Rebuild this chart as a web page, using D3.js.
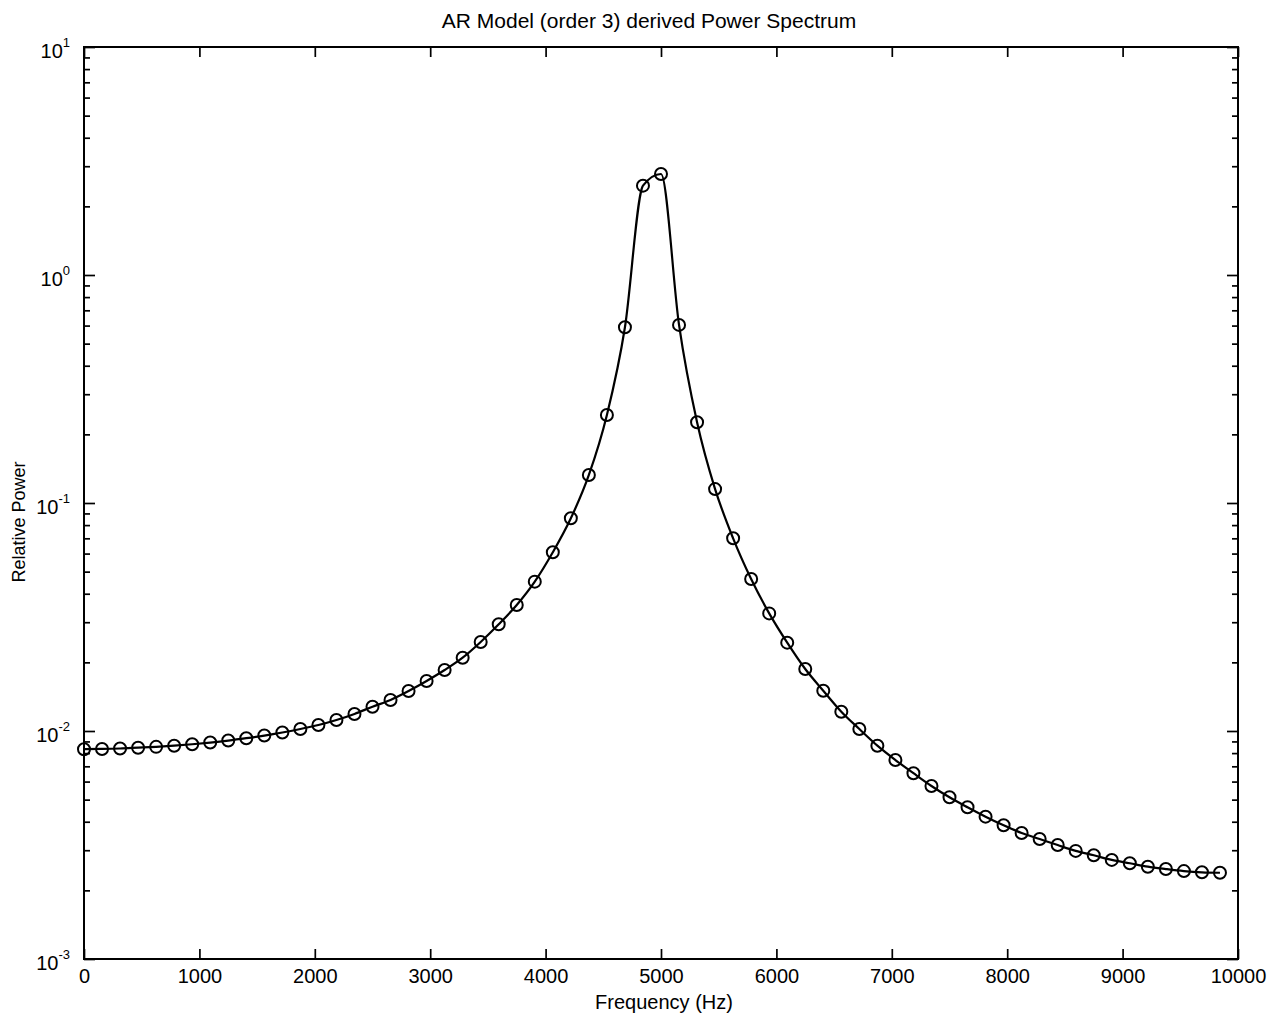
<!DOCTYPE html>
<html>
<head>
<meta charset="utf-8">
<script src="https://cdnjs.cloudflare.com/ajax/libs/d3/7.8.5/d3.min.js"></script>
<style>
  body { margin: 0; background: #fff; }
  text { font-family: "Liberation Sans", Arial, Helvetica, sans-serif; fill: #000; }
</style>
</head>
<body>
<div id="main"></div>
<script>
// frequency bins (Hz)
var freqs = [0, 156.25, 312.5, 468.75, 625, 781.25, 937.5, 1093.75,
    1250, 1406.25, 1562.5, 1718.75, 1875, 2031.25, 2187.5, 2343.75,
    2500, 2656.25, 2812.5, 2968.75, 3125, 3281.25, 3437.5, 3593.75,
    3750, 3906.25, 4062.5, 4218.75, 4375, 4531.25, 4687.5, 4843.75,
    5000, 5156.25, 5312.5, 5468.75, 5625, 5781.25, 5937.5, 6093.75,
    6250, 6406.25, 6562.5, 6718.75, 6875, 7031.25, 7187.5, 7343.75,
    7500, 7656.25, 7812.5, 7968.75, 8125, 8281.25, 8437.5, 8593.75,
    8750, 8906.25, 9062.5, 9218.75, 9375, 9531.25, 9687.5, 9843.75];

// relative power
var power = [0.00832, 0.00834, 0.00838, 0.00845, 0.00852, 0.00862, 0.00875, 0.00890,
    0.00908, 0.00930, 0.00955, 0.00985, 0.01020, 0.01062, 0.01117, 0.01188,
    0.01278, 0.01368, 0.01497, 0.01657, 0.01851, 0.02097, 0.02458, 0.02938,
    0.0357, 0.0452, 0.0608, 0.0857, 0.1327, 0.2432, 0.590, 2.465,
    2.773, 0.604, 0.2259, 0.1151, 0.0700, 0.0464, 0.0328, 0.0244,
    0.0187, 0.01502, 0.01215, 0.01020, 0.00862, 0.00746, 0.00653, 0.00574,
    0.00512, 0.00463, 0.00421, 0.00386, 0.00357, 0.00336, 0.00316, 0.00298,
    0.00285, 0.00272, 0.00263, 0.00254, 0.00248, 0.00243, 0.00240, 0.00239];

var xTicks = [0, 1000, 2000, 3000, 4000, 5000, 6000, 7000, 8000, 9000, 10000];
var yMajor = [1e-3, 1e-2, 1e-1, 1e0, 1e1];
var yExp = ["-3", "-2", "-1", "0", "1"];

var titleText = "AR Model (order 3) derived Power Spectrum";
var xLabel = "Frequency (Hz)";
var yLabel = "Relative Power";

var W = 1276, H = 1015;
var pL = 84, pR = 1238, pT = 47, pB = 959;

var svg = d3.select("#main")
    .append("svg")
    .attr("width", W)
    .attr("height", H);

var x = d3.scaleLinear().domain([0, 10000]).range([pL, pR]);
var y = d3.scaleLog().domain([1e-3, 10]).range([pB, pT]);

// minor log ticks 2..9 in every decade
var yMinor = [];
yMajor.slice(0, -1).forEach(function(d) {
    for (var k = 2; k <= 9; k++) yMinor.push(d * k);
});

function strip(g) {
    g.select(".domain").remove();
    g.selectAll(".tick line").attr("stroke", "#000").attr("stroke-width", 1.7);
}

// bottom / top x ticks
svg.append("g")
    .attr("transform", "translate(0," + pB + ")")
    .call(d3.axisBottom(x).tickValues(xTicks).tickSize(-10).tickPadding(10).tickFormat(d3.format("d")))
    .call(strip)
    .selectAll("text")
    .attr("font-size", 20)
    .attr("font-family", "Liberation Sans, Arial, sans-serif");

svg.append("g")
    .attr("transform", "translate(0," + pT + ")")
    .call(d3.axisTop(x).tickValues(xTicks).tickSize(-10).tickFormat(""))
    .call(strip);

// left / right y ticks
svg.append("g")
    .attr("transform", "translate(" + pL + ",0)")
    .call(d3.axisLeft(y).tickValues(yMinor).tickSize(-6).tickFormat(""))
    .call(strip);
svg.append("g")
    .attr("transform", "translate(" + pR + ",0)")
    .call(d3.axisRight(y).tickValues(yMinor).tickSize(-6).tickFormat(""))
    .call(strip);
svg.append("g")
    .attr("transform", "translate(" + pR + ",0)")
    .call(d3.axisRight(y).tickValues(yMajor).tickSize(-11).tickFormat(""))
    .call(strip);

var yAx = svg.append("g")
    .attr("transform", "translate(" + pL + ",0)")
    .call(d3.axisLeft(y).tickValues(yMajor).tickSize(-11).tickFormat(""))
    .call(strip);

// 10^n labels
yAx.selectAll(".tick").append("text")
    .attr("x", -14)
    .attr("y", 10)
    .attr("text-anchor", "end")
    .attr("font-size", 20)
    .each(function(d, i) {
        var t = d3.select(this);
        t.append("tspan").text("10");
        t.append("tspan")
            .attr("dy", -11)
            .attr("font-size", 13)
            .text(yExp[i]);
    });

// frame
svg.append("rect")
    .attr("x", pL)
    .attr("y", pT)
    .attr("width", pR - pL)
    .attr("height", pB - pT)
    .attr("fill", "none")
    .attr("stroke", "#000")
    .attr("stroke-width", 2);

// curve + markers
var pts = freqs.map(function(f, i) { return { f: f, p: power[i] }; });

var line = d3.line()
    .x(function(d) { return x(d.f); })
    .y(function(d) { return y(d.p); })
    .curve(d3.curveMonotoneX);

svg.append("path")
    .datum(pts)
    .attr("d", line)
    .attr("fill", "none")
    .attr("stroke", "#000")
    .attr("stroke-width", 2.2);

svg.selectAll("circle")
    .data(pts)
    .enter()
    .append("circle")
    .attr("cx", function(d) { return x(d.f); })
    .attr("cy", function(d) { return y(d.p); })
    .attr("r", 6)
    .attr("fill", "none")
    .attr("stroke", "#000")
    .attr("stroke-width", 2);

// titles
svg.append("text")
    .attr("x", 649)
    .attr("y", 28)
    .attr("text-anchor", "middle")
    .attr("font-size", 21)
    .text(titleText);

svg.append("text")
    .attr("x", 664)
    .attr("y", 1009)
    .attr("text-anchor", "middle")
    .attr("font-size", 20)
    .text(xLabel);

svg.append("text")
    .attr("transform", "translate(25,522) rotate(-90)")
    .attr("text-anchor", "middle")
    .attr("font-size", 18)
    .text(yLabel);
</script>
</body>
</html>
